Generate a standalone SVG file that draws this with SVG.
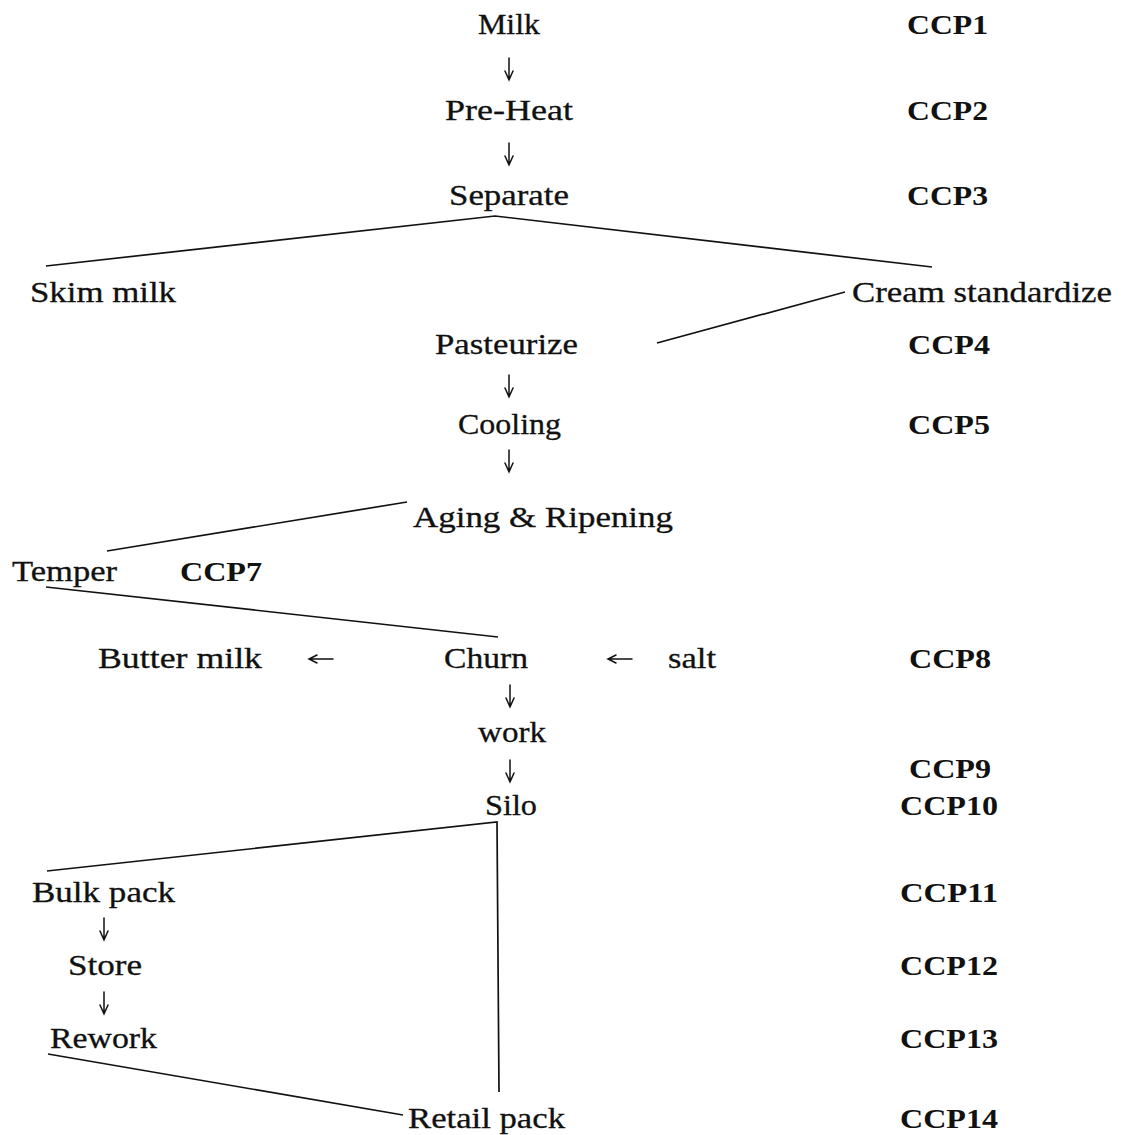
<svg xmlns="http://www.w3.org/2000/svg" width="1121" height="1135" viewBox="0 0 1121 1135">
  <style>
    .t { font-family: "Liberation Serif", "Times New Roman", serif; font-size: 29px; fill: #111; stroke: #111; stroke-width: 0.3; }
    .c { font-family: "Liberation Serif", "Times New Roman", serif; font-size: 28px; font-weight: bold; fill: #111; }
    .ln { fill: none; stroke: #111; stroke-width: 1.7; stroke-linejoin: miter; }
    .ar { fill: none; stroke: #111; stroke-width: 1.5; stroke-linecap: round; }
  </style>
  <defs>
    <!-- thin downward arrow, 22px long, tip at origin -->
    <g id="down">
      <path class="ar" d="M0,-22 V0 M-4,-9 L0,0 L4,-9"/>
    </g>
    <!-- thin leftward arrow, 24px long, tip at origin -->
    <g id="left">
      <path class="ar" d="M0,0 H24 M8,-4 L0,0 L8,4"/>
    </g>
  </defs>
  <rect width="1121" height="1135" fill="#fff"/>

  <!-- connectors -->
  <g id="connectors">
    <polyline class="ln" points="46,266 495,216 932,267"/>
    <line class="ln" x1="657" y1="343" x2="845" y2="292"/>
    <line class="ln" x1="107" y1="551" x2="407" y2="502"/>
    <line class="ln" x1="46" y1="587" x2="498" y2="637"/>
    <polyline class="ln" points="47,871 497,822 499,1092"/>
    <line class="ln" x1="48" y1="1054" x2="403" y2="1115"/>
    <use href="#down" x="509" y="80"/>
    <use href="#down" x="509" y="165"/>
    <use href="#down" x="509" y="397"/>
    <use href="#down" x="509" y="472"/>
    <use href="#down" x="510" y="707"/>
    <use href="#down" x="510" y="782"/>
    <use href="#down" x="104" y="940"/>
    <use href="#down" x="104" y="1014"/>
    <use href="#left" x="309" y="659"/>
    <use href="#left" x="608" y="659"/>
  </g>

  <!-- process steps -->
  <g id="milk"><text class="t" x="478" y="34" textLength="62" lengthAdjust="spacingAndGlyphs">Milk</text></g>
  <g id="preheat"><text class="t" x="445" y="120" textLength="128" lengthAdjust="spacingAndGlyphs">Pre-Heat</text></g>
  <g id="separate"><text class="t" x="449" y="205" textLength="120" lengthAdjust="spacingAndGlyphs">Separate</text></g>
  <g id="skim-milk"><text class="t" x="30" y="302" textLength="146" lengthAdjust="spacingAndGlyphs">Skim milk</text></g>
  <g id="cream-standardize"><text class="t" x="852" y="302" textLength="260" lengthAdjust="spacingAndGlyphs">Cream standardize</text></g>
  <g id="pasteurize"><text class="t" x="435" y="354" textLength="143" lengthAdjust="spacingAndGlyphs">Pasteurize</text></g>
  <g id="cooling"><text class="t" x="458" y="434" textLength="103" lengthAdjust="spacingAndGlyphs">Cooling</text></g>
  <g id="aging"><text class="t" x="413" y="527" textLength="260" lengthAdjust="spacingAndGlyphs">Aging &amp; Ripening</text></g>
  <g id="temper"><text class="t" x="12" y="581" textLength="105" lengthAdjust="spacingAndGlyphs">Temper</text></g>
  <g id="butter-milk"><text class="t" x="98" y="668" textLength="164" lengthAdjust="spacingAndGlyphs">Butter milk</text></g>
  <g id="churn"><text class="t" x="444" y="668" textLength="84" lengthAdjust="spacingAndGlyphs">Churn</text></g>
  <g id="salt"><text class="t" x="668" y="668" textLength="48" lengthAdjust="spacingAndGlyphs">salt</text></g>
  <g id="work"><text class="t" x="478" y="742" textLength="68" lengthAdjust="spacingAndGlyphs">work</text></g>
  <g id="silo"><text class="t" x="485" y="815" textLength="52" lengthAdjust="spacingAndGlyphs">Silo</text></g>
  <g id="bulk-pack"><text class="t" x="32" y="902" textLength="143" lengthAdjust="spacingAndGlyphs">Bulk pack</text></g>
  <g id="store"><text class="t" x="68" y="975" textLength="74" lengthAdjust="spacingAndGlyphs">Store</text></g>
  <g id="rework"><text class="t" x="50" y="1048" textLength="107" lengthAdjust="spacingAndGlyphs">Rework</text></g>
  <g id="retail-pack"><text class="t" x="408" y="1128" textLength="157" lengthAdjust="spacingAndGlyphs">Retail pack</text></g>

  <!-- critical control points -->
  <g id="ccp1"><text class="c" x="907" y="34" textLength="81" lengthAdjust="spacingAndGlyphs">CCP1</text></g>
  <g id="ccp2"><text class="c" x="907" y="120" textLength="81" lengthAdjust="spacingAndGlyphs">CCP2</text></g>
  <g id="ccp3"><text class="c" x="907" y="205" textLength="81" lengthAdjust="spacingAndGlyphs">CCP3</text></g>
  <g id="ccp4"><text class="c" x="908" y="354" textLength="82" lengthAdjust="spacingAndGlyphs">CCP4</text></g>
  <g id="ccp5"><text class="c" x="908" y="434" textLength="82" lengthAdjust="spacingAndGlyphs">CCP5</text></g>
  <g id="ccp7"><text class="c" x="180" y="581" textLength="82" lengthAdjust="spacingAndGlyphs">CCP7</text></g>
  <g id="ccp8"><text class="c" x="909" y="668" textLength="82" lengthAdjust="spacingAndGlyphs">CCP8</text></g>
  <g id="ccp9"><text class="c" x="909" y="778" textLength="82" lengthAdjust="spacingAndGlyphs">CCP9</text></g>
  <g id="ccp10"><text class="c" x="900" y="815" textLength="98" lengthAdjust="spacingAndGlyphs">CCP10</text></g>
  <g id="ccp11"><text class="c" x="900" y="902" textLength="98" lengthAdjust="spacingAndGlyphs">CCP11</text></g>
  <g id="ccp12"><text class="c" x="900" y="975" textLength="98" lengthAdjust="spacingAndGlyphs">CCP12</text></g>
  <g id="ccp13"><text class="c" x="900" y="1048" textLength="98" lengthAdjust="spacingAndGlyphs">CCP13</text></g>
  <g id="ccp14"><text class="c" x="900" y="1128" textLength="98" lengthAdjust="spacingAndGlyphs">CCP14</text></g>
</svg>
